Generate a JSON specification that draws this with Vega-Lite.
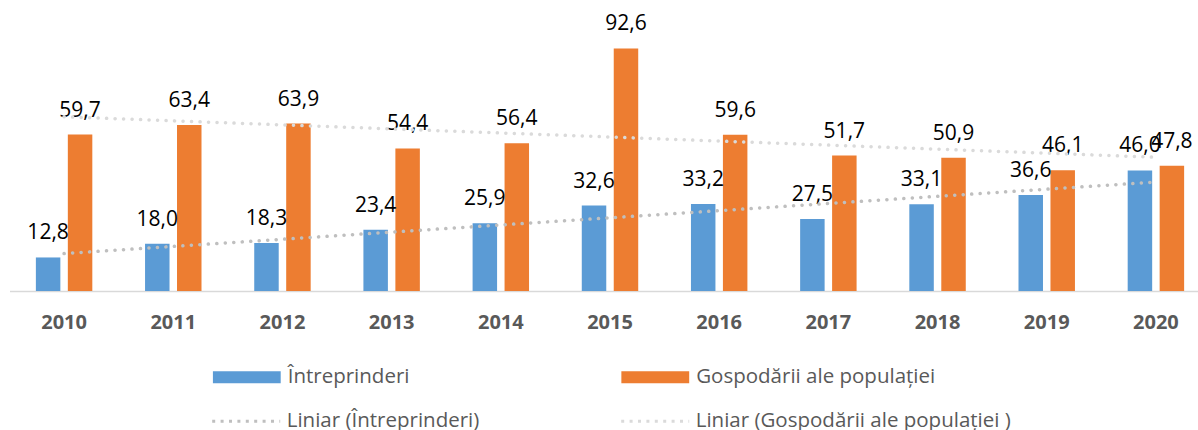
{
  "$schema": "https://vega.github.io/schema/vega-lite/v6.json",
  "autosize": {"type": "none"},
  "width": 1188.5,
  "height": 262,
  "padding": {"left": 9.5, "top": 29, "right": 0, "bottom": 139},
  "config": {
    "view": {"stroke": null}
  },
  "data": {
    "values": [
      {"year": 2010, "series": "Întreprinderi", "trend": "Liniar (Întreprinderi)", "value": 12.8, "label": "12,8"},
      {"year": 2011, "series": "Întreprinderi", "trend": "Liniar (Întreprinderi)", "value": 18.0, "label": "18,0"},
      {"year": 2012, "series": "Întreprinderi", "trend": "Liniar (Întreprinderi)", "value": 18.3, "label": "18,3"},
      {"year": 2013, "series": "Întreprinderi", "trend": "Liniar (Întreprinderi)", "value": 23.4, "label": "23,4"},
      {"year": 2014, "series": "Întreprinderi", "trend": "Liniar (Întreprinderi)", "value": 25.9, "label": "25,9"},
      {"year": 2015, "series": "Întreprinderi", "trend": "Liniar (Întreprinderi)", "value": 32.6, "label": "32,6"},
      {"year": 2016, "series": "Întreprinderi", "trend": "Liniar (Întreprinderi)", "value": 33.2, "label": "33,2"},
      {"year": 2017, "series": "Întreprinderi", "trend": "Liniar (Întreprinderi)", "value": 27.5, "label": "27,5"},
      {"year": 2018, "series": "Întreprinderi", "trend": "Liniar (Întreprinderi)", "value": 33.1, "label": "33,1"},
      {"year": 2019, "series": "Întreprinderi", "trend": "Liniar (Întreprinderi)", "value": 36.6, "label": "36,6"},
      {"year": 2020, "series": "Întreprinderi", "trend": "Liniar (Întreprinderi)", "value": 46.0, "label": "46,0"},
      {"year": 2010, "series": "Gospodării ale populației", "trend": "Liniar (Gospodării ale populației )", "value": 59.7, "label": "59,7"},
      {"year": 2011, "series": "Gospodării ale populației", "trend": "Liniar (Gospodării ale populației )", "value": 63.4, "label": "63,4"},
      {"year": 2012, "series": "Gospodării ale populației", "trend": "Liniar (Gospodării ale populației )", "value": 63.9, "label": "63,9"},
      {"year": 2013, "series": "Gospodării ale populației", "trend": "Liniar (Gospodării ale populației )", "value": 54.4, "label": "54,4"},
      {"year": 2014, "series": "Gospodării ale populației", "trend": "Liniar (Gospodării ale populației )", "value": 56.4, "label": "56,4"},
      {"year": 2015, "series": "Gospodării ale populației", "trend": "Liniar (Gospodării ale populației )", "value": 92.6, "label": "92,6"},
      {"year": 2016, "series": "Gospodării ale populației", "trend": "Liniar (Gospodării ale populației )", "value": 59.6, "label": "59,6"},
      {"year": 2017, "series": "Gospodării ale populației", "trend": "Liniar (Gospodării ale populației )", "value": 51.7, "label": "51,7"},
      {"year": 2018, "series": "Gospodării ale populației", "trend": "Liniar (Gospodării ale populației )", "value": 50.9, "label": "50,9"},
      {"year": 2019, "series": "Gospodării ale populației", "trend": "Liniar (Gospodării ale populației )", "value": 46.1, "label": "46,1"},
      {"year": 2020, "series": "Gospodării ale populației", "trend": "Liniar (Gospodării ale populației )", "value": 47.8, "label": "47,8"}
    ]
  },
  "encoding": {
    "x": {
      "field": "year", "type": "ordinal",
      "scale": {"range": [0, 1201], "paddingInner": 0.483, "paddingOuter": 0.2415},
      "axis": {
        "title": null, "ticks": false, "domain": true, "domainColor": "#D9D9D9", "domainWidth": 1.5,
        "labelFont": "Open Sans", "labelFontWeight": "bold", "labelFontSize": 20, "labelColor": "#595959",
        "labelPadding": 21, "labelAngle": 0, "grid": false
      }
    },
    "y": {
      "field": "value", "type": "quantitative",
      "scale": {"domain": [0, 100], "nice": false, "zero": true},
      "axis": null
    }
  },
  "layer": [
    {
      "mark": {"type": "bar"},
      "encoding": {
        "xOffset": {
          "field": "series", "type": "nominal",
          "sort": ["Întreprinderi", "Gospodării ale populației"],
          "scale": {"domain": ["Întreprinderi", "Gospodării ale populației"], "paddingInner": 0.234, "paddingOuter": 0}
        },
        "color": {
          "field": "series", "type": "nominal",
          "scale": {
            "domain": ["Întreprinderi", "Gospodării ale populației"],
            "range": ["#5B9BD5", "#ED7D31"]
          },
          "legend": {
            "title": null, "orient": "none", "legendX": 203.2, "legendY": 338,
            "direction": "horizontal", "columns": 2, "padding": 0,
            "symbolType": "M-1,-0.176H1V0.176H-1Z",
            "symbolSize": 4624, "symbolStrokeWidth": 0, "symbolOffset": 0,
            "clipHeight": 20, "columnPadding": 211.5,
            "labelOffset": 7, "labelFont": "Open Sans", "labelFontSize": 20.5, "labelColor": "#595959", "labelLimit": 0,
            "labelBaseline": "middle"
          }
        }
      }
    },
    {
      "mark": {"type": "text", "baseline": "alphabetic", "dy": -18, "font": "Open Sans", "fontSize": 21, "color": "#000000"},
      "encoding": {
        "xOffset": {"field": "series", "type": "nominal", "sort": ["Întreprinderi", "Gospodării ale populației"]},
        "text": {"field": "label", "type": "nominal"}
      }
    },
    {
      "transform": [
        {"regression": "value", "on": "year", "groupby": ["trend"], "method": "linear"}
      ],
      "mark": {"type": "line", "strokeDash": [0.1, 8.4], "strokeCap": "round", "strokeWidth": 3.5},
      "encoding": {
        "stroke": {
          "field": "trend", "type": "nominal",
          "scale": {
            "domain": ["Liniar (Întreprinderi)", "Liniar (Gospodării ale populației )"],
            "range": ["#BFBFBF", "#DADADA"]
          },
          "legend": {
            "title": null, "orient": "none", "legendX": 201.2, "legendY": 382,
            "direction": "horizontal", "columns": 2, "padding": 0,
            "symbolType": "M-1,0H1",
            "symbolSize": 4624, "symbolStrokeWidth": 3, "symbolDash": [3, 5.4], "symbolOffset": 0,
            "symbolFillColor": "transparent",
            "clipHeight": 20, "columnPadding": 140,
            "labelOffset": 5, "labelFont": "Open Sans", "labelFontSize": 20.5, "labelColor": "#595959", "labelLimit": 0,
            "labelBaseline": "middle"
          }
        }
      }
    }
  ]
}
